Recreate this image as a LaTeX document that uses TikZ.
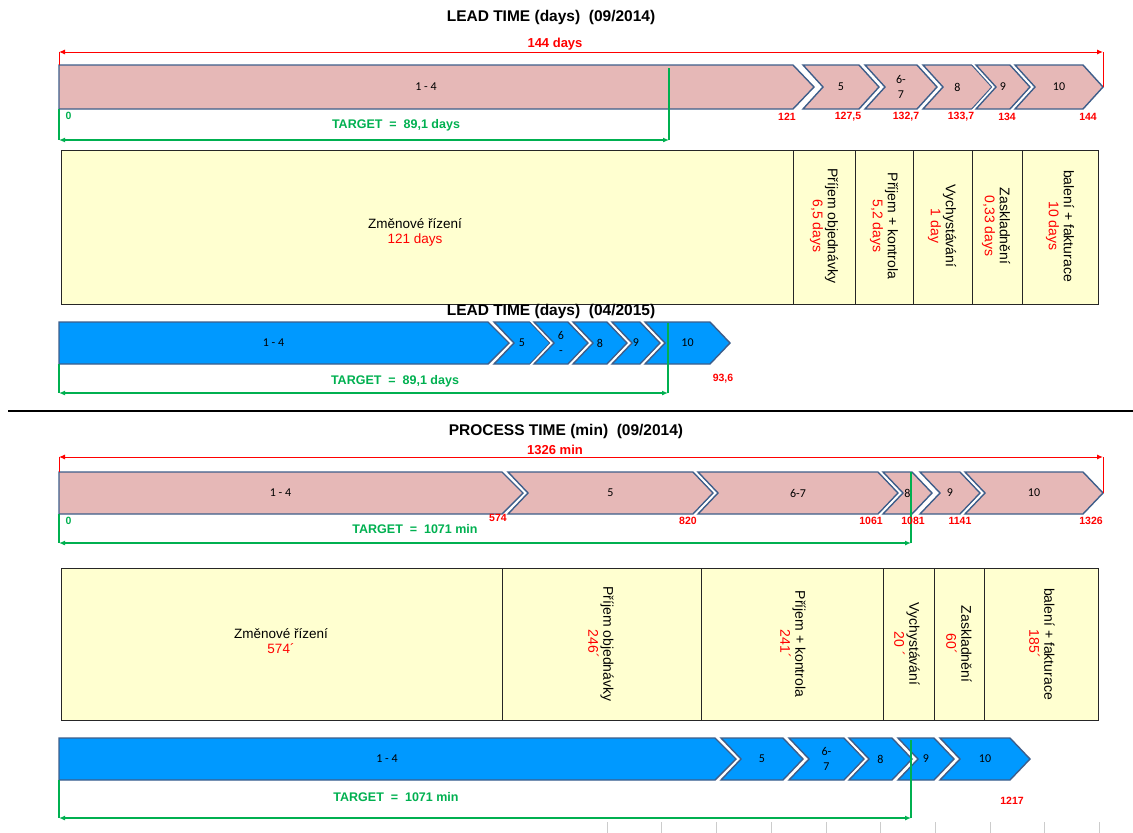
\documentclass[tikz,border=0pt]{standalone}
\usepackage{fontspec}
\setmainfont{Liberation Sans}
\newfontfamily\calfont{Carlito}
\usetikzlibrary{arrows.meta}
\definecolor{pinkfill}{RGB}{230,184,183}
\definecolor{chevborder}{RGB}{62,94,138}
\definecolor{bluefill}{RGB}{0,153,255}
\definecolor{boxfill}{RGB}{255,255,208}
\definecolor{tgreen}{RGB}{0,176,80}
\definecolor{tred}{RGB}{255,0,0}
\newcommand\chevshape[7]{%
  \draw[white, line width=5pt, line join=miter] (#3,#5) -- (#4,#5) -- ({#4+20},{(#5+#6)/2}) -- (#4,#6) -- (#3,#6) -- ({#3+20},{(#5+#6)/2}) -- cycle;
  \filldraw[chevst, fill=#2] (#3,#5) -- (#4,#5) -- ({#4+20},{(#5+#6)/2}) -- (#4,#6) -- (#3,#6) -- ({#3+20},{(#5+#6)/2}) -- cycle;
  \node[chevlab] (#1) at ({(#3+#4)/2+10},{(#5+#6)/2}) {#7};}
\newcommand\platshape[7]{%
  \filldraw[chevst, fill=#2] (#3,#5) -- (#4,#5) -- ({#4+21},{(#5+#6)/2}) -- (#4,#6) -- (#3,#6) -- cycle;
  \node[chevlab] (#1) at ({(#3+#4)/2},{(#5+#6)/2}) {#7};}
\begin{document}
\begin{tikzpicture}[x=1pt,y=-1pt,
  chevst/.style={draw=chevborder, line width=1.4pt, line join=miter},
  chevlab/.style={font=\calfont\fontsize{12}{15}\selectfont, align=center, inner sep=0pt},
  title/.style={font=\bfseries\fontsize{15.5}{17}\selectfont},
  redlab/.style={text=tred, font=\bfseries\fontsize{13}{15}\selectfont},
  rednum/.style={text=tred, font=\bfseries\fontsize{10.5}{12}\selectfont},
  greenlab/.style={text=tgreen, font=\bfseries\fontsize{12.5}{14}\selectfont},
  greennum/.style={text=tgreen, font=\bfseries\fontsize{10.5}{12}\selectfont},
  redline/.style={draw=tred, line width=1pt},
  greenline/.style={draw=tgreen, line width=1.5pt},
  dimarrow/.style={{Latex[length=6pt,width=5pt]}-{Latex[length=6pt,width=5pt]}},
  boxst/.style={draw=black!85, fill=boxfill, line width=0.7pt},
  boxtext/.style={font=\fontsize{13.5}{15}\selectfont, align=center},
  vtext/.style={font=\fontsize{14}{15}\selectfont, align=center, rotate=-90}
]
\useasboundingbox (0,0) rectangle (1133,833);

% ================= Section 1: LEAD TIME 09/2014 =================
\node[title] (t1) at (551,17) {LEAD TIME (days)\ \ (09/2014)};
\node[redlab] (r1) at (555,44) {144 days};

\platshape{s1a}{pinkfill}{59}{793}{65}{109}{1 - 4}
\chevshape{s1b}{pinkfill}{803}{859}{65}{109}{5}
\chevshape{s1c}{pinkfill}{865}{917}{65}{109}{6-\\7}
\chevshape{s1d}{pinkfill}{923}{972}{65}{109}{8}
\chevshape{s1e}{pinkfill}{976}{1010}{65}{109}{9}
\chevshape{s1f}{pinkfill}{1015}{1083}{65}{109}{10}

\coordinate (r1l) at (59,52); \coordinate (r1r) at (1103,52);
\coordinate (r1lb) at (59,65); \coordinate (r1rb) at (1103,87);
\draw[redline] (r1lb) -- (r1l);
\draw[redline] (r1rb) -- (r1r);
\draw[redline, dimarrow] (r1l) -- (r1r);

\coordinate (g1l) at (59,140); \coordinate (g1r) at (669,140);
\coordinate (g1lt) at (59,109); \coordinate (g1rt) at (669,68);
\draw[greenline] (g1lt) -- (g1l);
\draw[greenline] (g1rt) -- (g1r);
\draw[greenline, dimarrow] (g1l) -- (g1r);
\node[greennum, anchor=west] (z1) at (62,116) {0};
\node[greenlab] (tg1) at (396,125) {TARGET\ \ =\ \ 89,1 days};

\node[rednum] (n11) at (787,117) {121};
\node[rednum] (n12) at (848,117) {127,5};
\node[rednum] (n13) at (906,117) {132,7};
\node[rednum] (n14) at (961,117) {133,7};
\node[rednum] (n15) at (1007,117) {134};
\node[rednum] (n16) at (1088,117) {144};

\draw[boxst] (61,150) rectangle (793,304);
\draw[boxst] (793,150) rectangle (855,304);
\draw[boxst] (855,150) rectangle (913,304);
\draw[boxst] (913,150) rectangle (972,304);
\draw[boxst] (972,150) rectangle (1022,304);
\draw[boxst] (1022,150) rectangle (1098,304);
\node[boxtext] (b10) at (415,232) {Změnové řízení\\\textcolor{tred}{121 days}};
\node[vtext] (b11) at (824,226) {Příjem objednávky\\\textcolor{tred}{6,5 days}};
\node[vtext] (b12) at (884,226) {Příjem + kontrola\\\textcolor{tred}{5,2 days}};
\node[vtext] (b13) at (942,226) {Vychystávání\\\textcolor{tred}{1 day}};
\node[vtext] (b14) at (996,226) {Zaskladnění\\\textcolor{tred}{0,33 days}};
\node[vtext] (b15) at (1060,226) {balení + fakturace\\\textcolor{tred}{10 days}};

% ================= Section 2: LEAD TIME 04/2015 =================
\platshape{s2a}{bluefill}{59}{488}{322}{364}{1 - 4}
\chevshape{s2b}{bluefill}{494}{530}{322}{364}{5}
\chevshape{s2c}{bluefill}{534}{568}{322}{364}{6\\-}
\chevshape{s2d}{bluefill}{573}{607}{322}{364}{8}
\chevshape{s2e}{bluefill}{612}{640}{322}{364}{9}
\chevshape{s2f}{bluefill}{645}{710}{322}{364}{10}
\node[title] (t2) at (551,311) {LEAD TIME (days)\ \ (04/2015)};

\coordinate (g2l) at (59,393); \coordinate (g2r) at (668,393);
\coordinate (g2lt) at (59,364); \coordinate (g2rt) at (668,323);
\draw[greenline] (g2lt) -- (g2l);
\draw[greenline] (g2rt) -- (g2r);
\draw[greenline, dimarrow] (g2l) -- (g2r);
\node[greenlab] (tg2) at (395,381) {TARGET\ \ =\ \ 89,1 days};
\node[rednum] (n21) at (723,379) {93,6};

% separator
\coordinate (sepl) at (8,411); \coordinate (sepr) at (1133,411);
\draw[line width=2pt] (sepl) -- (sepr);

% ================= Section 3: PROCESS TIME 09/2014 =================
\node[title] (t3) at (566,431) {PROCESS TIME (min)\ \ (09/2014)};
\node[redlab] (r3) at (555,450) {1326 min};

\platshape{s3a}{pinkfill}{59}{502}{472}{514}{1 - 4}
\chevshape{s3b}{pinkfill}{508}{693}{472}{514}{5}
\chevshape{s3c}{pinkfill}{698}{878}{472}{514}{6-7}
\chevshape{s3d}{pinkfill}{883}{912}{472}{514}{8}
\chevshape{s3e}{pinkfill}{920}{960}{472}{514}{9}
\chevshape{s3f}{pinkfill}{965}{1083}{472}{514}{10}

\coordinate (r3l) at (59,457); \coordinate (r3r) at (1103,457);
\coordinate (r3lb) at (59,472); \coordinate (r3rb) at (1103,493);
\draw[redline] (r3lb) -- (r3l);
\draw[redline] (r3rb) -- (r3r);
\draw[redline, dimarrow] (r3l) -- (r3r);

\coordinate (g3l) at (59,543); \coordinate (g3r) at (911,543);
\coordinate (g3lt) at (59,514); \coordinate (g3rt) at (911,472);
\draw[greenline] (g3lt) -- (g3l);
\draw[greenline] (g3rt) -- (g3r);
\draw[greenline, dimarrow] (g3l) -- (g3r);
\node[greennum, anchor=west] (z3) at (62,521) {0};
\node[greenlab] (tg3) at (415,529) {TARGET\ \ =\ \ 1071 min};

\node[rednum] (n31) at (498,518) {574};
\node[rednum] (n32) at (688,521) {820};
\node[rednum] (n33) at (871,521) {1061};
\node[rednum] (n34) at (913,521) {1081};
\node[rednum] (n35) at (960,521) {1141};
\node[rednum] (n36) at (1091,521) {1326};

\draw[boxst] (61,568) rectangle (502,720);
\draw[boxst] (502,568) rectangle (701,720);
\draw[boxst] (701,568) rectangle (883,720);
\draw[boxst] (883,568) rectangle (934,720);
\draw[boxst] (934,568) rectangle (984,720);
\draw[boxst] (984,568) rectangle (1098,720);
\node[boxtext] (b30) at (281,641) {Změnové řízení\\\textcolor{tred}{574´}};
\node[vtext] (b31) at (601,644) {Příjem objednávky\\\textcolor{tred}{246´}};
\node[vtext] (b32) at (793,644) {Příjem + kontrola\\\textcolor{tred}{241´}};
\node[vtext] (b33) at (907,644) {Vychystávání\\\textcolor{tred}{20 ´}};
\node[vtext] (b34) at (959,644) {Zaskladnění\\\textcolor{tred}{60´}};
\node[vtext] (b35) at (1042,644) {balení + fakturace\\\textcolor{tred}{185´}};

% ================= Section 4: PROCESS TIME 04/2015 =================
\platshape{s4a}{bluefill}{59}{715}{738}{780}{1 - 4}
\chevshape{s4b}{bluefill}{721}{783}{738}{780}{5}
\chevshape{s4c}{bluefill}{789}{844}{738}{780}{6-\\7}
\chevshape{s4d}{bluefill}{849}{892}{738}{780}{8}
\chevshape{s4e}{bluefill}{898}{934}{738}{780}{9}
\chevshape{s4f}{bluefill}{940}{1010}{738}{780}{10}

\coordinate (g4l) at (59,818); \coordinate (g4r) at (911,818);
\coordinate (g4lt) at (59,780); \coordinate (g4rt) at (911,740);
\draw[greenline] (g4lt) -- (g4l);
\draw[greenline] (g4rt) -- (g4r);
\draw[greenline, dimarrow] (g4l) -- (g4r);
\node[greenlab] (tg4) at (396,797) {TARGET\ \ =\ \ 1071 min};
\node[rednum] (n41) at (1012,801) {1217};

% faint grid ticks at the bottom
\foreach \i in {0,...,9} {
  \coordinate (tk\i a) at ({607+54.7*\i},822);
  \coordinate (tk\i b) at ({607+54.7*\i},833);
  \draw[black!20, line width=0.6pt] (tk\i a) -- (tk\i b);
}
\end{tikzpicture}
\end{document}
